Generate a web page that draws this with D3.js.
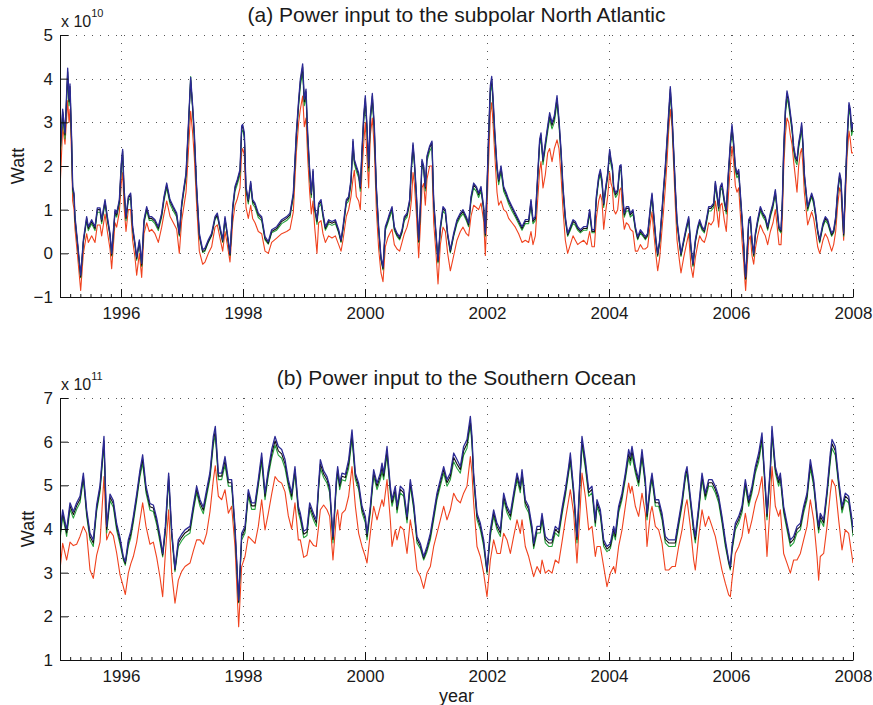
<!DOCTYPE html>
<html>
<head>
<meta charset="utf-8">
<script src="https://cdn.jsdelivr.net/npm/d3@7"></script>
<style>
body { margin: 0; background: #fff; }
svg text { font-family: "Liberation Sans", Arial, Helvetica, sans-serif; fill: #1a1a1a; }
</style>
</head>
<body>
<div id="chart"></div>
<script>
// ---- data ----
const yearTicks = [1996, 1998, 2000, 2002, 2004, 2006, 2008];
const ticksA = [-1, 0, 1, 2, 3, 4, 5];
const ticksB = [1, 2, 3, 4, 5, 6, 7];

// (a) subpolar North Atlantic, units of 1e10 W
const timeA = [1995.000,1995.044,1995.082,1995.126,1995.148,1995.164,1995.191,1995.208,1995.230,1995.246,1995.284,1995.339,1995.383,1995.437,1995.464,1995.519,1995.574,1995.612,1995.656,1995.683,1995.738,1995.776,1995.820,1995.847,1995.902,1995.929,1995.973,1996.005,1996.027,1996.049,1996.082,1996.120,1996.158,1996.191,1996.230,1996.257,1996.301,1996.339,1996.377,1996.421,1996.464,1996.503,1996.557,1996.612,1996.667,1996.705,1996.749,1996.803,1996.858,1996.913,1996.956,1996.995,1997.033,1997.066,1997.104,1997.142,1997.175,1997.202,1997.240,1997.284,1997.339,1997.377,1997.432,1997.486,1997.541,1997.579,1997.623,1997.667,1997.705,1997.743,1997.787,1997.831,1997.869,1997.907,1997.951,1997.978,1997.995,1998.022,1998.049,1998.087,1998.126,1998.158,1998.197,1998.251,1998.306,1998.361,1998.415,1998.470,1998.552,1998.634,1998.716,1998.770,1998.825,1998.874,1998.913,1998.940,1998.978,1999.005,1999.033,1999.060,1999.093,1999.120,1999.148,1999.175,1999.213,1999.240,1999.279,1999.311,1999.350,1999.404,1999.459,1999.514,1999.568,1999.607,1999.639,1999.694,1999.732,1999.770,1999.803,1999.825,1999.858,1999.896,1999.923,1999.951,1999.978,2000.005,2000.033,2000.060,2000.087,2000.120,2000.153,2000.186,2000.224,2000.262,2000.295,2000.333,2000.372,2000.404,2000.443,2000.481,2000.525,2000.568,2000.607,2000.645,2000.689,2000.732,2000.760,2000.787,2000.809,2000.842,2000.880,2000.907,2000.934,2000.962,2000.989,2001.016,2001.060,2001.098,2001.126,2001.164,2001.197,2001.235,2001.279,2001.317,2001.355,2001.399,2001.454,2001.508,2001.563,2001.607,2001.661,2001.699,2001.738,2001.781,2001.825,2001.863,2001.902,2001.945,2001.973,2002.000,2002.027,2002.055,2002.077,2002.098,2002.126,2002.164,2002.191,2002.230,2002.273,2002.317,2002.355,2002.410,2002.464,2002.519,2002.574,2002.628,2002.683,2002.721,2002.754,2002.792,2002.820,2002.863,2002.885,2002.918,2002.956,2002.995,2003.027,2003.066,2003.104,2003.148,2003.180,2003.213,2003.246,2003.284,2003.322,2003.366,2003.410,2003.448,2003.486,2003.530,2003.585,2003.639,2003.683,2003.721,2003.760,2003.792,2003.831,2003.858,2003.885,2003.913,2003.940,2003.978,2004.011,2004.033,2004.055,2004.077,2004.109,2004.142,2004.175,2004.197,2004.230,2004.251,2004.284,2004.322,2004.350,2004.393,2004.432,2004.470,2004.514,2004.557,2004.596,2004.634,2004.678,2004.705,2004.732,2004.770,2004.798,2004.831,2004.869,2004.896,2004.923,2004.951,2004.978,2005.005,2005.033,2005.060,2005.087,2005.115,2005.153,2005.180,2005.224,2005.268,2005.306,2005.344,2005.377,2005.415,2005.454,2005.486,2005.525,2005.563,2005.596,2005.634,2005.672,2005.716,2005.743,2005.770,2005.798,2005.825,2005.852,2005.891,2005.923,2005.956,2005.989,2006.016,2006.044,2006.071,2006.098,2006.126,2006.153,2006.180,2006.208,2006.224,2006.240,2006.262,2006.290,2006.317,2006.344,2006.372,2006.399,2006.437,2006.481,2006.525,2006.563,2006.601,2006.645,2006.689,2006.727,2006.754,2006.787,2006.820,2006.842,2006.863,2006.891,2006.918,2006.945,2006.973,2007.000,2007.027,2007.055,2007.082,2007.109,2007.137,2007.158,2007.180,2007.202,2007.224,2007.257,2007.290,2007.322,2007.355,2007.388,2007.421,2007.454,2007.475,2007.508,2007.546,2007.585,2007.617,2007.650,2007.683,2007.716,2007.749,2007.781,2007.803,2007.825,2007.847,2007.874,2007.902,2007.934,2007.956,2007.978,2008.000];
const blueA = [2.30,3.30,2.76,4.24,3.53,3.88,2.61,1.53,1.38,0.84,0.31,-0.50,0.31,0.84,0.61,0.77,0.61,1.04,1.04,0.77,1.23,0.84,0.46,0.00,1.00,0.92,1.23,2.07,2.38,1.53,0.84,1.30,1.38,0.61,0.23,-0.08,0.31,-0.23,0.77,1.07,0.84,0.84,0.77,0.61,0.92,1.30,1.61,1.23,1.07,0.92,0.46,1.15,1.53,1.84,2.92,4.03,3.38,2.76,1.53,0.46,0.08,0.12,0.31,0.46,0.84,0.92,0.61,0.31,0.84,0.46,0.00,1.07,1.53,1.69,1.92,2.92,2.95,2.76,1.53,1.23,1.65,1.23,1.15,0.92,0.84,0.38,0.27,0.54,0.61,0.77,0.84,0.92,1.38,2.76,3.53,3.99,4.34,3.53,3.76,2.76,1.92,1.38,1.92,1.07,0.77,1.15,1.23,0.92,0.61,0.77,0.73,0.77,0.54,0.31,0.61,1.23,1.30,1.69,2.61,2.15,2.00,1.84,1.53,2.38,3.15,3.61,2.92,2.00,3.15,3.66,2.92,1.53,0.61,-0.08,-0.31,0.61,0.77,0.92,1.07,0.61,0.46,0.38,0.54,0.84,0.92,1.23,2.00,2.53,2.15,1.38,0.31,1.07,2.15,2.00,1.53,2.23,2.46,2.57,1.23,0.46,-0.15,0.61,1.07,1.00,0.46,0.08,0.46,0.77,0.92,1.00,0.84,0.69,1.30,1.61,1.53,1.38,1.53,1.07,0.46,1.53,2.76,3.84,4.05,3.61,2.84,2.00,1.69,2.00,1.53,1.38,1.23,1.07,0.92,0.77,0.61,0.77,0.77,1.23,0.77,0.84,1.53,2.61,2.76,2.15,2.53,2.92,3.22,2.99,3.15,3.61,3.07,2.38,1.53,0.84,0.46,0.61,0.77,0.73,0.61,0.54,0.61,0.61,1.00,0.54,0.54,1.30,1.77,1.92,1.69,1.15,1.46,1.84,2.38,2.15,2.00,1.53,1.38,1.46,2.00,2.03,1.23,0.92,1.07,1.07,0.92,1.00,0.61,0.38,0.54,0.46,0.38,0.46,1.07,1.38,0.92,0.31,0.00,0.31,1.00,1.53,2.00,2.61,3.22,3.82,3.22,2.38,1.53,0.77,0.31,0.00,0.31,0.61,0.84,0.15,-0.23,0.31,0.61,0.77,0.61,0.54,0.77,1.07,1.07,1.15,1.65,1.38,1.07,1.53,1.61,1.23,1.00,1.84,2.53,2.95,2.53,2.00,1.84,1.92,1.38,0.84,0.23,-0.23,-0.54,0.00,0.77,0.84,0.31,0.00,0.46,0.77,1.07,0.92,0.84,0.61,0.92,1.15,1.46,1.07,0.61,0.54,1.23,2.38,3.30,3.72,3.53,3.22,2.92,2.46,2.23,2.15,2.53,2.76,2.99,2.53,1.84,1.53,1.07,1.23,1.38,1.23,0.92,0.54,0.31,0.46,0.69,0.84,0.77,0.61,0.46,0.54,0.84,1.46,1.84,1.69,1.07,0.46,1.53,2.61,3.45,3.30,2.84,2.99];
const blackA = [2.25,3.24,2.71,4.16,3.47,3.82,2.56,1.49,1.34,0.80,0.27,-0.54,0.27,0.80,0.57,0.73,0.57,1.00,1.00,0.73,1.19,0.80,0.42,-0.04,0.96,0.88,1.19,2.03,2.34,1.49,0.80,1.26,1.34,0.57,0.19,-0.12,0.27,-0.27,0.73,1.03,0.80,0.80,0.73,0.57,0.88,1.26,1.57,1.19,1.03,0.88,0.42,1.11,1.49,1.80,2.87,3.97,3.33,2.71,1.49,0.42,0.04,0.08,0.27,0.42,0.80,0.88,0.57,0.27,0.80,0.42,-0.04,1.03,1.49,1.65,1.88,2.87,2.90,2.71,1.49,1.19,1.61,1.19,1.11,0.88,0.80,0.34,0.23,0.50,0.57,0.73,0.80,0.88,1.34,2.71,3.47,3.93,4.27,3.47,3.70,2.71,1.88,1.34,1.88,1.03,0.73,1.11,1.19,0.88,0.57,0.73,0.69,0.73,0.50,0.27,0.57,1.19,1.26,1.65,2.56,2.11,1.96,1.80,1.49,2.34,3.09,3.55,2.87,1.96,3.09,3.60,2.87,1.49,0.57,-0.12,-0.35,0.57,0.73,0.88,1.03,0.57,0.42,0.34,0.50,0.80,0.88,1.19,1.96,2.48,2.11,1.34,0.27,1.03,2.11,1.96,1.49,2.19,2.42,2.53,1.19,0.42,-0.19,0.57,1.03,0.96,0.42,0.04,0.42,0.73,0.88,0.96,0.80,0.65,1.26,1.57,1.49,1.34,1.49,1.03,0.42,1.49,2.71,3.78,3.98,3.55,2.79,1.96,1.65,1.96,1.49,1.34,1.19,1.03,0.88,0.73,0.57,0.73,0.73,1.19,0.73,0.80,1.49,2.56,2.71,2.11,2.48,2.87,3.16,2.93,3.09,3.55,3.01,2.34,1.49,0.80,0.42,0.57,0.73,0.69,0.57,0.50,0.57,0.57,0.96,0.50,0.50,1.26,1.73,1.88,1.65,1.11,1.42,1.80,2.34,2.11,1.96,1.49,1.34,1.42,1.96,1.99,1.19,0.88,1.03,1.03,0.88,0.96,0.57,0.34,0.50,0.42,0.34,0.42,1.03,1.34,0.88,0.27,-0.04,0.27,0.96,1.49,1.96,2.56,3.16,3.76,3.16,2.34,1.49,0.73,0.27,-0.04,0.27,0.57,0.80,0.11,-0.27,0.27,0.57,0.73,0.57,0.50,0.73,1.03,1.03,1.11,1.61,1.34,1.03,1.49,1.57,1.19,0.96,1.80,2.48,2.90,2.48,1.96,1.80,1.88,1.34,0.80,0.19,-0.27,-0.58,-0.04,0.73,0.80,0.27,-0.04,0.42,0.73,1.03,0.88,0.80,0.57,0.88,1.11,1.42,1.03,0.57,0.50,1.19,2.34,3.24,3.66,3.47,3.16,2.87,2.42,2.19,2.11,2.48,2.71,2.93,2.48,1.80,1.49,1.03,1.19,1.34,1.19,0.88,0.50,0.27,0.42,0.65,0.80,0.73,0.57,0.42,0.50,0.80,1.42,1.80,1.65,1.03,0.42,1.49,2.56,3.39,3.24,2.79,2.93];
const greenA = [2.15,3.15,2.62,4.05,3.38,3.72,2.48,1.42,1.28,0.75,0.25,-0.56,0.25,0.74,0.52,0.68,0.52,0.94,0.94,0.68,1.13,0.75,0.40,-0.06,0.90,0.83,1.13,1.95,2.25,1.42,0.75,1.20,1.28,0.53,0.17,-0.16,0.25,-0.30,0.68,0.97,0.75,0.76,0.68,0.52,0.83,1.20,1.50,1.13,0.97,0.83,0.39,1.05,1.43,1.73,2.80,4.05,3.25,2.63,1.42,0.39,0.02,0.05,0.25,0.40,0.77,0.85,0.54,0.25,0.76,0.40,-0.05,0.97,1.42,1.58,1.80,2.78,2.82,2.64,1.42,1.13,1.55,1.13,1.05,0.82,0.75,0.31,0.21,0.47,0.53,0.68,0.75,0.83,1.28,2.63,3.38,3.83,4.15,3.38,3.60,2.63,1.80,1.28,1.80,0.97,0.66,1.05,1.13,0.82,0.53,0.68,0.64,0.68,0.47,0.25,0.53,1.13,1.20,1.58,2.45,2.05,1.88,1.73,1.42,2.25,3.00,3.45,2.78,1.88,3.00,3.50,2.78,1.42,0.52,-0.15,-0.38,0.52,0.68,0.82,0.97,0.52,0.39,0.31,0.47,0.75,0.83,1.13,1.85,2.40,2.03,1.28,0.25,0.97,2.02,1.90,1.43,2.11,2.34,2.44,1.13,0.39,-0.22,0.52,0.97,0.90,0.39,0.01,0.39,0.68,0.83,0.91,0.75,0.61,1.20,1.50,1.42,1.28,1.43,0.98,0.39,1.42,2.62,3.68,3.88,3.45,2.70,1.88,1.57,1.87,1.42,1.28,1.13,0.97,0.83,0.68,0.53,0.68,0.68,1.12,0.68,0.75,1.42,2.48,2.63,2.03,2.40,2.78,3.07,2.85,3.00,3.45,2.93,2.25,1.42,0.75,0.39,0.53,0.68,0.64,0.53,0.47,0.53,0.53,0.90,0.47,0.47,1.20,1.66,1.80,1.58,1.05,1.36,1.73,2.30,2.03,1.88,1.42,1.28,1.36,1.88,1.92,1.13,0.83,0.97,0.97,0.83,0.90,0.53,0.31,0.47,0.39,0.31,0.39,0.97,1.28,0.83,0.24,-0.07,0.24,0.90,1.42,1.88,2.48,3.08,3.66,3.08,2.26,1.42,0.68,0.24,-0.07,0.24,0.53,0.75,0.08,-0.30,0.24,0.53,0.68,0.53,0.47,0.68,0.97,0.97,1.05,1.54,1.28,0.97,1.43,1.50,1.13,0.90,1.73,2.40,2.82,2.40,1.88,1.73,1.80,1.28,0.75,0.17,-0.30,-0.60,-0.07,0.68,0.75,0.24,-0.07,0.39,0.68,0.97,0.83,0.75,0.53,0.83,1.05,1.36,0.97,0.53,0.47,1.13,2.25,3.15,3.55,3.38,3.08,2.80,2.34,2.11,2.03,2.40,2.63,2.85,2.40,1.73,1.42,0.97,1.15,1.30,1.13,0.83,0.47,0.24,0.39,0.61,0.75,0.68,0.53,0.39,0.47,0.75,1.36,1.73,1.58,0.97,0.39,1.43,2.48,3.30,3.15,2.70,2.85];
const redA = [1.45,2.90,2.50,3.50,3.00,3.30,2.20,1.20,1.00,0.55,0.00,-0.85,0.00,0.45,0.25,0.40,0.25,0.65,0.65,0.40,0.90,0.50,0.10,-0.35,0.70,0.60,0.95,1.60,1.85,1.10,0.50,1.00,1.00,0.30,-0.10,-0.50,0.00,-0.55,0.45,0.70,0.50,0.55,0.45,0.25,0.60,0.90,1.20,0.85,0.70,0.55,0.00,0.75,1.10,1.40,2.30,3.25,2.75,2.20,1.10,0.05,-0.25,-0.20,0.00,0.15,0.60,0.65,0.35,0.05,0.50,0.20,-0.20,0.70,1.10,1.25,1.50,2.30,2.40,2.25,1.05,0.80,1.10,0.80,0.70,0.50,0.45,0.05,0.00,0.25,0.35,0.45,0.50,0.55,0.95,2.30,3.00,3.30,3.60,2.90,3.10,2.20,1.40,0.90,1.20,0.60,0.00,0.70,0.75,0.45,0.25,0.40,0.35,0.40,0.20,0.05,0.30,0.85,1.00,1.30,1.70,1.90,1.30,1.20,1.00,1.90,2.50,3.00,2.20,1.50,2.70,3.10,2.40,1.00,0.10,-0.45,-0.65,0.15,0.35,0.45,0.55,0.20,0.10,0.05,0.25,0.45,0.60,0.85,1.20,1.85,1.60,0.90,-0.10,0.60,1.50,1.60,1.10,1.70,2.00,2.00,0.70,0.00,-0.70,0.20,0.60,0.50,0.00,-0.40,-0.05,0.30,0.50,0.60,0.45,0.40,0.85,1.10,1.05,1.00,1.15,0.75,-0.05,1.00,2.10,3.20,3.45,3.00,2.30,1.40,1.10,1.20,1.00,0.95,0.80,0.70,0.60,0.45,0.25,0.30,0.25,0.50,0.20,0.40,1.00,1.90,2.10,1.50,1.80,2.30,2.40,2.10,2.40,2.60,2.40,1.80,1.00,0.30,0.00,0.20,0.40,0.30,0.20,0.25,0.30,0.20,0.50,0.15,0.15,0.80,1.20,1.35,1.20,0.55,0.90,1.30,1.85,1.60,1.50,1.00,0.90,1.00,1.45,1.50,0.80,0.55,0.70,0.65,0.55,0.50,0.05,0.05,0.20,0.10,0.10,0.15,0.70,0.95,0.50,-0.05,-0.40,-0.10,0.55,1.00,1.50,2.10,2.80,3.30,2.90,2.00,1.10,0.30,-0.15,-0.45,-0.10,0.20,0.45,-0.30,-0.55,-0.10,0.20,0.40,0.30,0.25,0.40,0.70,0.65,0.75,1.20,0.95,0.60,1.10,1.15,0.75,0.50,1.30,2.00,2.45,2.10,1.55,1.40,1.50,0.90,0.30,-0.20,-0.55,-0.85,-0.35,0.30,0.40,-0.05,-0.25,0.10,0.40,0.65,0.50,0.40,0.20,0.50,0.70,1.00,0.65,0.20,0.20,0.80,1.90,2.70,3.10,3.00,2.70,2.50,2.10,1.75,1.40,2.00,2.30,2.40,2.00,1.40,1.10,0.65,0.80,0.95,0.80,0.50,0.15,0.00,0.10,0.30,0.45,0.35,0.20,0.05,0.20,0.50,1.10,1.50,1.40,0.80,0.30,1.20,2.20,2.80,2.60,2.30,2.30];

// (b) Southern Ocean, units of 1e11 W
const timeB = [1995.000,1995.044,1995.109,1995.164,1995.219,1995.273,1995.328,1995.383,1995.437,1995.492,1995.546,1995.601,1995.656,1995.721,1995.765,1995.820,1995.874,1995.929,1995.984,1996.038,1996.071,1996.120,1996.160,1996.202,1996.257,1996.311,1996.355,1996.410,1996.475,1996.530,1996.585,1996.639,1996.683,1996.727,1996.781,1996.831,1996.885,1996.940,1996.995,1997.049,1997.131,1997.186,1997.240,1997.295,1997.350,1997.404,1997.459,1997.514,1997.546,1997.596,1997.650,1997.705,1997.760,1997.814,1997.869,1997.929,1997.978,1998.033,1998.087,1998.142,1998.197,1998.251,1998.306,1998.361,1998.415,1998.470,1998.525,1998.579,1998.634,1998.689,1998.743,1998.798,1998.852,1998.907,1998.940,1998.995,1999.049,1999.093,1999.158,1999.202,1999.240,1999.268,1999.322,1999.377,1999.421,1999.475,1999.530,1999.552,1999.585,1999.623,1999.678,1999.732,1999.787,1999.842,1999.896,1999.951,2000.005,2000.033,2000.087,2000.142,2000.197,2000.251,2000.279,2000.306,2000.361,2000.415,2000.443,2000.497,2000.525,2000.579,2000.634,2000.689,2000.743,2000.798,2000.852,2000.907,2000.962,2001.016,2001.071,2001.126,2001.180,2001.235,2001.290,2001.344,2001.399,2001.454,2001.508,2001.563,2001.617,2001.672,2001.727,2001.754,2001.781,2001.836,2001.891,2001.945,2002.000,2002.055,2002.109,2002.164,2002.219,2002.273,2002.328,2002.383,2002.437,2002.492,2002.546,2002.574,2002.628,2002.683,2002.738,2002.765,2002.820,2002.874,2002.902,2002.956,2003.011,2003.066,2003.120,2003.175,2003.235,2003.284,2003.339,2003.366,2003.421,2003.475,2003.530,2003.557,2003.612,2003.667,2003.721,2003.776,2003.803,2003.858,2003.913,2003.967,2004.022,2004.077,2004.104,2004.158,2004.213,2004.268,2004.322,2004.350,2004.377,2004.432,2004.486,2004.541,2004.596,2004.623,2004.678,2004.705,2004.760,2004.814,2004.869,2004.923,2004.978,2005.033,2005.087,2005.142,2005.197,2005.251,2005.279,2005.333,2005.388,2005.415,2005.470,2005.525,2005.579,2005.634,2005.689,2005.743,2005.798,2005.852,2005.907,2005.962,2005.989,2006.016,2006.071,2006.126,2006.180,2006.235,2006.290,2006.344,2006.399,2006.454,2006.508,2006.563,2006.590,2006.645,2006.672,2006.727,2006.781,2006.809,2006.863,2006.918,2006.973,2007.027,2007.082,2007.137,2007.191,2007.246,2007.301,2007.355,2007.410,2007.437,2007.464,2007.519,2007.574,2007.628,2007.656,2007.710,2007.765,2007.820,2007.874,2007.929,2007.984,2008.000];
const blueB = [3.90,4.44,3.98,4.60,4.40,4.60,4.75,5.28,4.44,3.90,3.75,4.55,5.00,6.12,4.06,4.80,4.65,4.12,3.80,3.37,3.25,3.75,3.95,4.29,4.80,5.35,5.70,4.98,4.58,4.55,4.25,3.85,3.44,4.06,5.28,3.98,3.10,3.75,3.88,3.98,4.06,4.55,4.98,4.67,4.50,4.90,5.30,6.12,6.35,5.28,5.28,5.66,5.13,5.13,4.06,2.37,3.90,4.06,4.90,4.60,4.60,5.13,5.74,4.82,5.36,5.82,6.12,5.89,5.82,5.59,5.13,4.82,5.43,4.52,4.36,3.95,4.00,4.60,4.35,4.21,5.05,5.59,5.33,5.20,4.98,3.83,5.13,5.43,5.05,5.28,5.25,5.59,6.27,5.28,5.05,4.52,4.29,3.90,4.52,5.36,5.05,5.28,5.51,5.28,5.89,4.98,4.67,4.98,4.52,4.98,4.90,4.29,5.13,4.60,3.83,3.67,3.37,3.60,3.90,4.36,4.82,5.13,5.43,5.13,5.28,5.74,5.59,5.43,5.89,6.05,6.58,6.12,5.28,4.36,4.13,3.75,3.06,3.98,4.44,4.13,3.98,4.82,4.52,4.36,4.82,5.28,4.98,5.36,4.67,4.52,4.06,3.67,4.06,4.06,4.36,3.83,3.75,3.75,4.06,3.98,4.52,4.90,5.43,5.74,4.90,3.83,5.36,6.12,5.59,4.90,4.98,4.21,4.67,4.44,3.75,3.60,3.67,4.06,3.90,4.52,4.82,5.28,5.82,5.66,5.89,5.43,5.13,5.82,5.13,4.36,5.05,5.28,4.67,4.67,4.36,3.83,3.75,3.75,3.75,4.21,4.67,5.28,5.43,4.75,4.06,3.83,4.52,5.28,4.82,5.13,5.13,4.98,4.75,4.29,3.75,3.29,3.14,3.60,4.13,4.29,4.52,5.13,4.67,4.98,5.43,5.74,6.20,4.98,4.36,5.43,6.35,5.43,5.13,5.28,4.52,4.13,3.75,3.83,4.06,4.13,4.52,4.82,5.59,5.13,4.36,4.06,4.36,4.21,4.90,5.74,6.05,5.89,5.13,4.52,4.82,4.75,4.21,3.98];
const blackB = [3.83,4.37,3.91,4.53,4.33,4.53,4.68,5.21,4.37,3.83,3.68,4.48,4.93,6.02,3.99,4.73,4.58,4.05,3.73,3.33,3.21,3.68,3.88,4.22,4.73,5.28,5.60,4.91,4.51,4.48,4.18,3.78,3.40,3.99,5.21,3.91,3.06,3.68,3.81,3.91,3.99,4.48,4.91,4.60,4.43,4.83,5.23,6.02,6.25,5.21,5.21,5.56,5.06,5.06,3.99,2.33,3.83,3.99,4.83,4.53,4.53,5.06,5.64,4.75,5.29,5.72,6.02,5.79,5.72,5.49,5.06,4.75,5.36,4.45,4.29,3.88,3.93,4.53,4.28,4.14,4.98,5.49,5.26,5.13,4.91,3.76,5.06,5.36,4.98,5.21,5.18,5.49,6.17,5.21,4.98,4.45,4.22,3.83,4.45,5.29,4.98,5.21,5.41,5.21,5.79,4.91,4.60,4.91,4.45,4.91,4.83,4.22,5.06,4.53,3.76,3.61,3.33,3.54,3.83,4.29,4.75,5.06,5.36,5.06,5.21,5.64,5.49,5.36,5.79,5.95,6.48,6.02,5.21,4.29,4.06,3.68,3.02,3.91,4.37,4.06,3.91,4.75,4.45,4.29,4.75,5.21,4.91,5.29,4.60,4.45,3.99,3.61,3.99,3.99,4.29,3.76,3.68,3.68,3.99,3.91,4.45,4.83,5.36,5.64,4.83,3.76,5.29,6.02,5.49,4.83,4.91,4.14,4.60,4.37,3.68,3.54,3.61,3.99,3.83,4.45,4.75,5.21,5.72,5.56,5.79,5.36,5.06,5.72,5.06,4.29,4.98,5.21,4.60,4.60,4.29,3.76,3.68,3.68,3.68,4.14,4.60,5.21,5.36,4.68,3.99,3.76,4.45,5.21,4.75,5.06,5.06,4.91,4.68,4.22,3.68,3.25,3.10,3.54,4.06,4.22,4.45,5.06,4.60,4.91,5.36,5.64,6.10,4.91,4.29,5.36,6.25,5.36,5.06,5.21,4.45,4.06,3.68,3.76,3.99,4.06,4.45,4.75,5.49,5.06,4.29,3.99,4.29,4.14,4.83,5.64,5.95,5.79,5.06,4.45,4.75,4.68,4.14,3.91];
const greenB = [3.75,4.29,3.83,4.45,4.25,4.45,4.60,5.13,4.29,3.75,3.60,4.40,4.85,5.92,3.91,4.65,4.50,3.97,3.65,3.29,3.17,3.60,3.80,4.14,4.65,5.20,5.50,4.83,4.43,4.40,4.10,3.70,3.36,3.91,5.13,3.83,3.02,3.60,3.73,3.83,3.91,4.40,4.83,4.52,4.35,4.75,5.15,5.92,6.15,5.13,5.13,5.46,4.98,4.98,3.91,2.31,3.75,3.91,4.75,4.45,4.45,4.98,5.54,4.67,5.21,5.62,5.92,5.69,5.62,5.39,4.98,4.67,5.28,4.37,4.21,3.80,3.85,4.45,4.20,4.06,4.90,5.39,5.18,5.05,4.83,3.68,4.98,5.28,4.90,5.13,5.10,5.39,6.07,5.13,4.90,4.37,4.14,3.75,4.37,5.21,4.90,5.13,5.31,5.13,5.69,4.83,4.52,4.83,4.37,4.83,4.75,4.14,4.98,4.45,3.68,3.55,3.29,3.48,3.75,4.21,4.67,4.98,5.28,4.98,5.13,5.54,5.39,5.28,5.69,5.85,6.38,5.92,5.13,4.21,3.98,3.60,2.98,3.83,4.29,3.98,3.83,4.67,4.37,4.21,4.67,5.13,4.83,5.21,4.52,4.37,3.91,3.55,3.91,3.91,4.21,3.68,3.60,3.60,3.91,3.83,4.37,4.75,5.28,5.54,4.75,3.68,5.21,5.92,5.39,4.75,4.83,4.06,4.52,4.29,3.60,3.48,3.55,3.91,3.75,4.37,4.67,5.13,5.62,5.46,5.69,5.28,4.98,5.62,4.98,4.21,4.90,5.13,4.52,4.52,4.21,3.68,3.60,3.60,3.60,4.06,4.52,5.13,5.28,4.60,3.91,3.68,4.37,5.13,4.67,4.98,4.98,4.83,4.60,4.14,3.60,3.21,3.06,3.48,3.98,4.14,4.37,4.98,4.52,4.83,5.28,5.54,6.00,4.83,4.21,5.28,6.15,5.28,4.98,5.13,4.37,3.98,3.60,3.68,3.91,3.98,4.37,4.67,5.39,4.98,4.21,3.91,4.21,4.06,4.75,5.54,5.85,5.69,4.98,4.37,4.67,4.60,4.06,3.83];
const redB = [3.06,3.67,3.29,3.70,3.62,3.65,3.83,4.06,3.90,3.06,2.87,3.40,3.70,5.20,3.75,3.95,3.85,3.45,2.95,2.68,2.50,2.99,3.20,3.37,3.70,4.20,4.60,4.06,3.65,3.70,3.35,2.90,2.45,3.44,4.44,2.99,2.30,2.83,3.03,3.14,3.22,3.50,3.75,3.75,3.65,3.90,4.40,5.13,5.45,4.75,4.67,4.90,4.36,4.52,3.60,1.76,3.14,3.37,3.83,3.75,3.67,4.06,4.67,3.98,4.36,4.80,5.20,5.10,5.05,4.85,4.30,4.00,4.60,3.75,3.75,3.35,3.40,3.75,3.62,3.60,4.06,4.44,4.55,4.44,4.29,3.29,4.29,4.44,3.98,4.36,4.44,4.75,5.43,4.52,3.90,3.60,3.37,3.22,3.90,4.52,4.21,4.52,4.67,4.52,5.13,4.21,3.60,3.98,3.75,4.06,3.98,3.44,4.21,3.75,3.06,2.91,2.64,2.99,3.14,3.60,3.90,4.21,4.52,4.21,4.44,4.82,4.67,4.60,4.82,4.98,5.66,5.28,4.60,3.60,3.37,2.99,2.45,3.29,3.75,3.44,3.44,3.90,3.75,3.44,3.83,4.21,3.90,4.21,3.60,3.37,3.06,2.91,3.14,2.99,3.29,2.99,3.06,2.99,3.29,3.22,3.75,4.21,4.67,4.90,4.36,3.22,4.52,5.28,4.75,3.98,4.06,3.37,3.60,3.60,3.14,2.68,2.99,3.14,2.99,3.60,3.98,4.52,5.05,4.82,4.98,4.52,4.29,4.82,4.36,3.60,4.36,4.52,4.06,3.98,3.67,3.06,3.06,3.14,3.14,3.60,3.98,4.52,4.67,4.06,3.29,3.06,3.83,4.44,4.06,4.29,4.06,3.83,3.44,3.06,2.76,2.49,2.45,2.83,3.44,3.60,3.83,4.36,3.90,4.21,4.60,4.82,5.20,4.06,3.37,4.60,5.43,4.52,4.29,4.44,3.44,3.22,2.99,3.29,3.29,3.44,3.75,4.06,4.67,4.21,3.37,2.83,3.37,3.44,4.06,4.82,5.13,4.98,4.21,3.52,3.98,3.90,3.37,3.22];

// ---- layout ----
const width = 873, height = 705;
const left = 60, right = 853;
const colors = { red: "#f0421e", green: "#25a23b", black: "#111111", blue: "#2c2a94" };

const svg = d3.select("#chart").append("svg")
    .attr("width", width).attr("height", height);

const x = d3.scaleLinear().domain([1995, 2008]).range([left, right]);

function drawPanel(cfg) {
    const y = d3.scaleLinear().domain(cfg.domain).range([cfg.bottom, cfg.top]);
    const g = svg.append("g");

    // dotted grid
    const grid = g.append("g").attr("stroke", "#555").attr("stroke-width", 1)
        .attr("stroke-dasharray", "1,7");
    grid.selectAll(".gx").data(yearTicks).join("line")
        .attr("x1", d => Math.round(x(d)) + 0.5).attr("x2", d => Math.round(x(d)) + 0.5)
        .attr("y1", cfg.top).attr("y2", cfg.bottom);
    grid.selectAll(".gy").data(cfg.ticks).join("line")
        .attr("x1", left).attr("x2", right)
        .attr("y1", d => Math.round(y(d)) + 0.5).attr("y2", d => Math.round(y(d)) + 0.5);

    // series
    const clipId = "clip" + cfg.id;
    svg.append("clipPath").attr("id", clipId).append("rect")
        .attr("x", left).attr("y", cfg.top - 2).attr("width", right - left).attr("height", cfg.bottom - cfg.top + 4);
    const line = d3.line().x(d => x(d[0])).y(d => y(d[1]));
    const lines = g.append("g").attr("clip-path", `url(#${clipId})`).attr("fill", "none");
    cfg.series.forEach(s => {
        lines.append("path")
            .datum(d3.zip(cfg.time, s.values))
            .attr("d", line)
            .attr("stroke", s.color)
            .attr("stroke-width", s.width)
            .attr("stroke-linejoin", "round");
    });

    // axes
    const xAxis = d3.axisBottom(x).tickValues(yearTicks).tickFormat(d3.format("d"))
        .tickSizeInner(-8).tickSizeOuter(0).tickPadding(10);
    const yAxis = d3.axisLeft(y).tickValues(cfg.ticks).tickFormat(d3.format("d"))
        .tickSizeInner(-8).tickSizeOuter(0).tickPadding(7);
    const minor = d3.axisBottom(x).tickValues(d3.range(1995, 2008.01, 1 / 6))
        .tickFormat("").tickSizeInner(-3).tickSizeOuter(0);

    g.append("g").attr("transform", `translate(0,${cfg.bottom})`).call(minor)
        .call(a => a.select(".domain").remove());
    const ax = g.append("g").attr("transform", `translate(0,${cfg.bottom})`).call(xAxis);
    const ay = g.append("g").attr("transform", `translate(${left},0)`).call(yAxis);
    [ax, ay].forEach(a => a.attr("font-size", 17).attr("font-family", null));
    g.selectAll(".domain, .tick line").attr("stroke", "#111");

    // exponent label
    const ex = g.append("text").attr("x", left + 1).attr("y", cfg.top - 8).attr("font-size", 16);
    ex.append("tspan").text("x 10");
    ex.append("tspan").attr("dy", -10).attr("font-size", 11).text(cfg.exp);

    // title and y label
    g.append("text").attr("x", (left + right) / 2).attr("y", cfg.titleY)
        .attr("text-anchor", "middle").attr("font-size", 21).text(cfg.title);
    g.append("text").attr("transform", `translate(${cfg.labelX},${(cfg.top + cfg.bottom) / 2}) rotate(-90)`)
        .attr("text-anchor", "middle").attr("font-size", 18).text("Watt");
}

drawPanel({
    id: "a", top: 35, bottom: 297, domain: [-1, 5], ticks: ticksA, exp: "10",
    title: "(a) Power input to the subpolar North Atlantic", titleY: 22, labelX: 24,
    time: timeA,
    series: [
        { values: redA, color: colors.red, width: 1.1 },
        { values: greenA, color: colors.green, width: 1.1 },
        { values: blackA, color: colors.black, width: 1.1 },
        { values: blueA, color: colors.blue, width: 1.3 }
    ]
});

drawPanel({
    id: "b", top: 398, bottom: 660, domain: [1, 7], ticks: ticksB, exp: "11",
    title: "(b) Power input to the Southern Ocean", titleY: 385, labelX: 34,
    time: timeB,
    series: [
        { values: redB, color: colors.red, width: 1.1 },
        { values: greenB, color: colors.green, width: 1.1 },
        { values: blackB, color: colors.black, width: 1.1 },
        { values: blueB, color: colors.blue, width: 1.3 }
    ]
});

svg.append("text").attr("x", (left + right) / 2).attr("y", 702)
    .attr("text-anchor", "middle").attr("font-size", 18).text("year");
</script>
</body>
</html>
